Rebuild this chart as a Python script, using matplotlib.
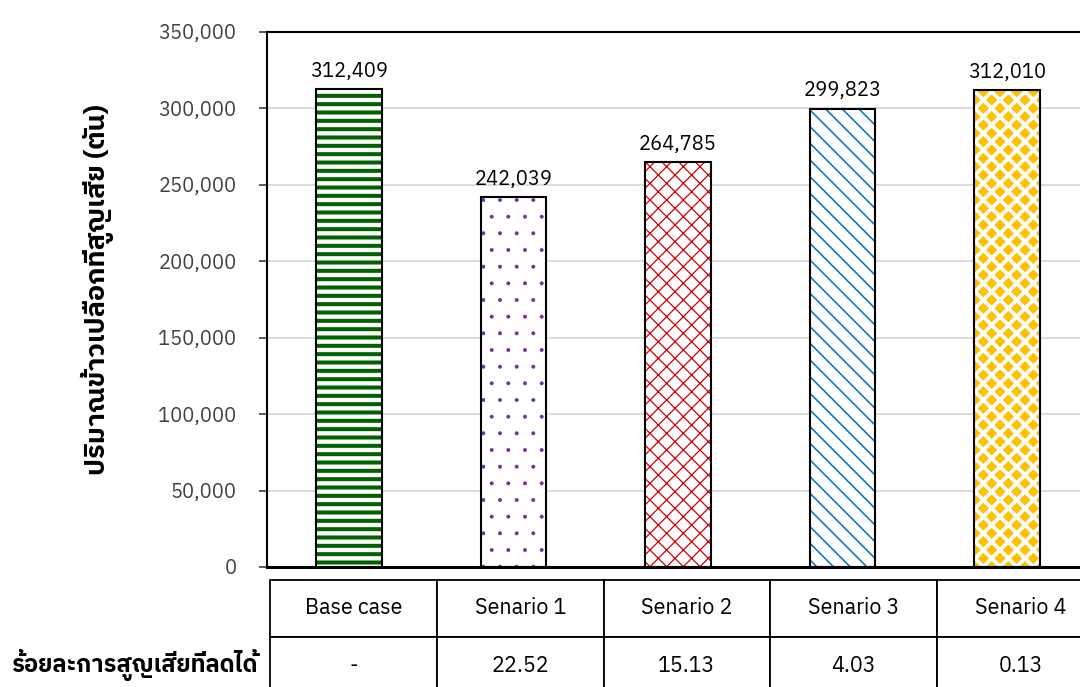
import matplotlib
matplotlib.use('Agg')
import matplotlib.pyplot as plt
from matplotlib import font_manager
from matplotlib.ft2font import FT2Font
from matplotlib.ticker import FuncFormatter

# data
categories = ['Base case', 'Senario 1', 'Senario 2', 'Senario 3', 'Senario 4']
losses = [312409, 242039, 264785, 299823, 312010]
reduction = ['-', '22.52', '15.13', '4.03', '0.13']

ylabel = 'ปริมาณข้าวเปลือกที่สูญเสีย (ตัน)'
row_label = 'ร้อยละการสูญเสียที่ลดได้'

# bar styles: (face, hatch colour, hatch, hatch width)
styles = [
    ('white', '#006100', '--', 2.9),
    ('white', '#7030A0', '.', 0.4),
    ('white', '#D00000', 'xx', 0.9),
    ('white', '#0070C0', '\\\\', 1.1),
    ('#FFC000', 'white', 'xx', 2.7),
]


def thai_fonts():
    names = []
    for f in font_manager.fontManager.ttflist:
        try:
            if ord('ก') in FT2Font(f.fname).get_charmap() and f.name not in names:
                names.append(f.name)
        except Exception:
            pass
    names.sort(key=lambda n: ('Thai' not in n, n))
    return names


plt.rcParams['font.family'] = thai_fonts()[:1] + ['DejaVu Sans']

fig = plt.figure(figsize=(10.8, 6.87), dpi=100)
ax = fig.add_axes([267 / 1080, 120 / 687, 822 / 1080, 535 / 687])

x = list(range(len(categories)))
for i in x:
    face, hcol, hatch, hlw = styles[i]
    with plt.rc_context({'hatch.linewidth': hlw}):
        b = ax.bar(i, losses[i], 0.4, color=face, edgecolor=hcol,
                   hatch=hatch, linewidth=0, zorder=2)
    for p in b:
        if hasattr(p, 'set_hatch_linewidth'):
            p.set_hatch_linewidth(hlw)
ax.bar(x, losses, 0.4, fill=False, edgecolor='black', linewidth=1.5, zorder=3)

for i, v in zip(x, losses):
    ax.annotate(f'{v:,}', (i, v), xytext=(0, 6), textcoords='offset points',
                ha='center', va='bottom', fontsize=14.5, color='black')

ax.set_xlim(-0.5, len(categories) - 0.5)
ax.set_ylim(0, 350000)
ax.set_yticks(range(0, 350001, 50000))
ax.yaxis.set_major_formatter(FuncFormatter(lambda v, _: f'{int(v):,}'))
ax.tick_params(axis='y', length=6, width=1.2, pad=16, labelsize=14.5,
               labelcolor='#404040', color='#404040')
ax.set_xticks([])
ax.grid(axis='y', color='#d9d9d9', linewidth=1.3, zorder=0)
ax.set_axisbelow(True)
for side in ['left', 'top']:
    ax.spines[side].set_linewidth(1.5)
ax.spines['bottom'].set_linewidth(2.2)
ax.spines['right'].set_visible(False)

fig.text(97 / 1080, 397 / 687, ylabel, rotation=90, ha='center', va='center',
         fontsize=19.5, fontweight='bold')

# table underneath the bars
tab = fig.add_axes([270 / 1080, -7 / 687, 834 / 1080, 114 / 687])
tab.axis('off')
table = tab.table(cellText=[categories, reduction], cellLoc='center',
                  bbox=[0, 0, 1, 1])
table.auto_set_font_size(False)
for cell in table.get_celld().values():
    cell.set_linewidth(1.3)
    cell.set_edgecolor('black')
    cell.get_text().set_fontsize(15.5)

fig.text(258 / 1080, 22 / 687, row_label, ha='right', va='center',
         fontsize=17, fontweight='bold')

fig.savefig('out.png', dpi=100)
